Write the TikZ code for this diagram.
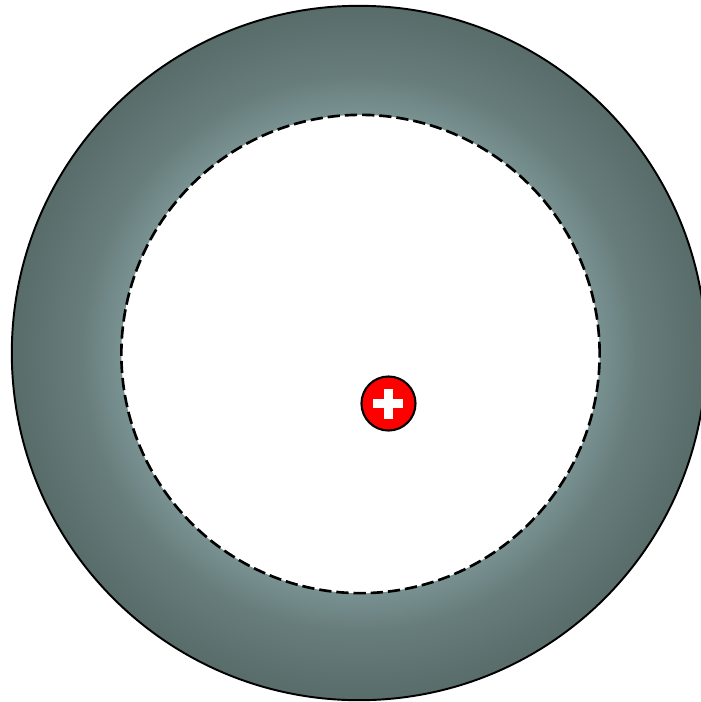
\documentclass[tikz,border=0pt]{standalone}
\usetikzlibrary{calc,positioning}
\definecolor{RingLight}{HTML}{7A9493}
\definecolor{RingMid}{HTML}{677D7C}
\definecolor{RingDark}{HTML}{586C6A}
\definecolor{ChargeRed}{HTML}{FF0000}
\pgfdeclareradialshading{ringshade}{\pgfpoint{0bp}{0bp}}{color(0bp)=(RingLight); color(17bp)=(RingLight); color(20bp)=(RingMid); color(25bp)=(RingDark); color(50bp)=(RingDark)}

\begin{document}
\begin{tikzpicture}[
    x=0.01cm,y=-0.01cm,
    ring/.style={circle,draw=black,line width=0.55pt,shading=ringshade,
      minimum size=6.94cm,inner sep=0pt,outer sep=0pt},
    hole/.style={circle,draw=black,fill=white,line width=0.75pt,
      dash pattern=on 3.5pt off 1.4pt,minimum size=4.78cm,inner sep=0pt,outer sep=0pt},
    charge/.style={circle,draw=black,fill=ChargeRed,line width=0.6pt,
      minimum size=0.54cm,inner sep=0pt,outer sep=0pt}
  ]
    \useasboundingbox (0,0) rectangle (701,702);
    \clip (0,0) rectangle (701,702);
    \node[ring] (shell) at (359,353) {};
    \node[hole] (cavity) at (360.5,354) {};
    \node[charge] (q) at (388.5,403.5) {};
    % plus sign
    \fill[white] ($(q)+(-15,-4.5)$) rectangle ($(q)+(15,4.5)$);
    \fill[white] ($(q)+(-4.5,-15)$) rectangle ($(q)+(4.5,15)$);
  \end{tikzpicture}
\end{document}
